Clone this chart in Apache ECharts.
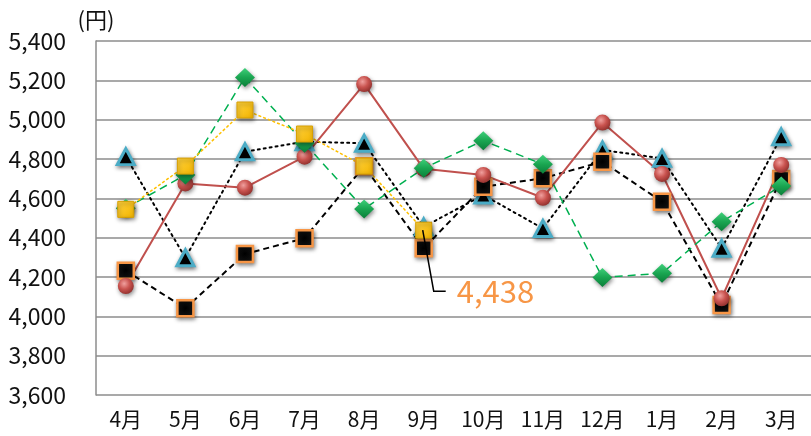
<!DOCTYPE html>
<html>
<head>
<meta charset="utf-8">
<script src="https://cdn.jsdelivr.net/npm/echarts@6/dist/echarts.min.js"></script>
<style>
  html, body { margin: 0; padding: 0; background: #fff; }
  #chart { width: 811px; height: 436px; }
</style>
</head>
<body>
<div id="chart"></div>
<script>
// Monthly prices (円), April through March
const months = ['4月', '5月', '6月', '7月', '8月', '9月', '10月', '11月', '12月', '1月', '2月', '3月'];
const triangleSeries = [4812, 4298, 4837, 4888, 4880, 4455, 4617, 4447, 4846, 4803, 4346, 4913];
const squareSeries   = [4232, 4041, 4317, 4397, 4763, 4346, 4659, 4702, 4786, 4583, 4058, 4698];
const circleSeries   = [4154, 4676, 4654, 4812, 5181, 4750, 4719, 4603, 4985, 4724, 4092, 4770];
const diamondSeries  = [4550, 4719, 5215, 4880, 4546, 4753, 4893, 4773, 4198, 4219, 4481, 4663];
const currentSeries  = [4544, 4764, 5049, 4927, 4764, 4438, null, null, null, null, null, null];
const yTicks = { min: 3600, max: 5400, step: 200 };
const highlightIndex = 5;

const FONT = '"Noto Sans CJK JP", "Noto Sans", sans-serif';
const fmt = v => v.toLocaleString('en-US');
const shadow = { shadowColor: 'rgba(0,0,0,0.45)', shadowBlur: 4, shadowOffsetX: 1, shadowOffsetY: 2 };

const chart = echarts.init(document.getElementById('chart'), null, { renderer: 'canvas' });

chart.setOption({
  animation: false,
  backgroundColor: '#ffffff',
  grid: { left: 96, right: -3, top: 41, bottom: 41 },
  xAxis: {
    type: 'category',
    data: months,
    boundaryGap: true,
    axisLine: { show: false },
    axisTick: { show: false },
    axisLabel: { color: '#111', fontFamily: FONT, fontSize: 21, margin: 14 }
  },
  yAxis: {
    type: 'value',
    min: yTicks.min,
    max: yTicks.max,
    interval: yTicks.step,
    name: '(円)',
    nameLocation: 'end',
    nameGap: 10,
    nameTextStyle: { color: '#111', fontFamily: FONT, fontSize: 22, align: 'center' },
    axisLine: { show: true, lineStyle: { color: '#8c8c8c', width: 1.5 } },
    axisTick: { show: false },
    splitLine: { lineStyle: { color: '#8c8c8c', width: 1.5 } },
    axisLabel: { color: '#111', fontFamily: FONT, fontSize: 23, margin: 30, formatter: v => fmt(v) }
  },
  series: [
    {
      name: 'triangle', type: 'line', data: triangleSeries,
      symbol: 'triangle', symbolSize: [17, 16],
      lineStyle: { color: '#000', width: 2, type: [2, 4], cap: 'round' },
      itemStyle: Object.assign({ color: '#000', borderColor: '#4BACC6', borderWidth: 3 }, shadow)
    },
    {
      name: 'square', type: 'line', data: squareSeries,
      symbol: 'rect', symbolSize: 16,
      lineStyle: { color: '#000', width: 2, type: [6, 4] },
      itemStyle: Object.assign({
        color: { type: 'radial', x: 0.5, y: 0.5, r: 0.7, colorStops: [{ offset: 0, color: '#000' }, { offset: 0.6, color: '#111' }, { offset: 1, color: '#555' }] },
        borderColor: '#F79646', borderWidth: 2.5
      }, shadow)
    },
    {
      name: 'circle', type: 'line', data: circleSeries,
      symbol: 'circle', symbolSize: 16,
      lineStyle: { color: '#C0504D', width: 2 },
      itemStyle: Object.assign({
        color: { type: 'radial', x: 0.4, y: 0.35, r: 0.7, colorStops: [{ offset: 0, color: '#F0A09E' }, { offset: 0.5, color: '#C9534F' }, { offset: 1, color: '#8E2E2B' }] },
        borderWidth: 0
      }, shadow)
    },
    {
      name: 'diamond', type: 'line', data: diamondSeries,
      symbol: 'diamond', symbolSize: [20, 19],
      lineStyle: { color: '#00B050', width: 1.5, type: [8, 5] },
      itemStyle: Object.assign({
        color: { type: 'linear', x: 0, y: 0, x2: 0, y2: 1, colorStops: [{ offset: 0, color: '#3FD07A' }, { offset: 0.5, color: '#1AA551' }, { offset: 1, color: '#0A7F39' }] },
        borderWidth: 0
      }, shadow)
    },
    {
      name: 'current', type: 'line', data: currentSeries,
      symbol: 'rect', symbolSize: 16,
      connectNulls: false,
      lineStyle: { color: '#FFC000', width: 1.5, type: [3, 2] },
      itemStyle: Object.assign({
        color: { type: 'linear', x: 0, y: 0, x2: 1, y2: 1, colorStops: [{ offset: 0, color: '#FFD23F' }, { offset: 1, color: '#F2B400' }] },
        borderColor: '#D9A000', borderWidth: 1
      }, shadow)
    }
  ]
});

// Callout for the latest value, anchored to its point through the axis scales
function drawCallout() {
  const value = currentSeries[highlightIndex];
  const p = chart.convertToPixel({ seriesIndex: 4 }, [highlightIndex, value]);
  chart.setOption({
    graphic: [
      {
        type: 'polyline', z: 100, silent: true,
        shape: { points: [[p[0] - 1, p[1]], [p[0] + 10, p[1] + 61], [p[0] + 22, p[1] + 61]] },
        style: { stroke: '#000', lineWidth: 1.5, fill: null }
      },
      {
        type: 'text', z: 100, silent: true,
        x: p[0] + 33, y: p[1] + 61,
        style: { text: fmt(value), fill: '#F79646', font: '31px ' + FONT, textVerticalAlign: 'middle', verticalAlign: 'middle' }
      }
    ]
  });
}
drawCallout();
</script>
</body>
</html>
